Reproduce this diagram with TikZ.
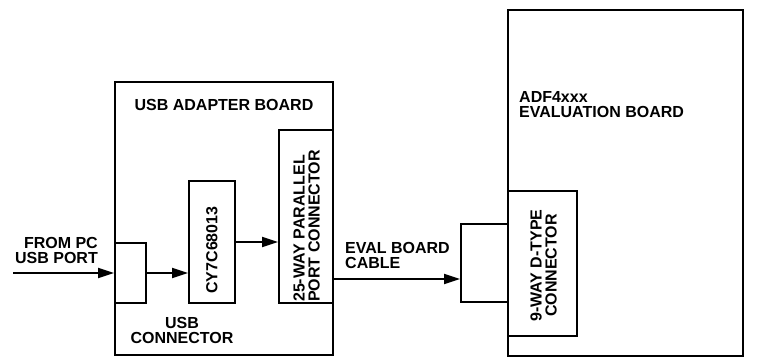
\documentclass[tikz,border=0pt]{standalone}
\usepackage{fontspec}
\setmainfont{Liberation Sans}
\usetikzlibrary{arrows.meta}
\tikzset{
  box/.style={draw,line width=2pt,inner sep=0pt},
  lbl/.style={font=\fontsize{16}{15}\selectfont\bfseries,inner sep=0pt},
  arr/.style={line width=2pt,-{Triangle[length=16pt,width=10pt]}}
}
\begin{document}
\begin{tikzpicture}[x=1pt,y=-1pt]
\useasboundingbox (0,0) rectangle (765,358);
% usb adapter board
\node[box,minimum width=218pt,minimum height=273pt] (usbboard) at (224,218.5) {};
\node[box,minimum width=31pt,minimum height=60pt] (usbconn) at (130.5,273) {};
\node[box,minimum width=46pt,minimum height=122pt] (cy) at (212,242) {};
\node[box,minimum width=54pt,minimum height=173pt] (par) at (306,216.5) {};
% evaluation board
\node[box,minimum width=235pt,minimum height=346pt] (adfboard) at (625.5,183) {};
\node[box,minimum width=69pt,minimum height=145pt] (dtype) at (542.5,263.5) {};
\node[box,minimum width=47pt,minimum height=78pt] (cable) at (484.5,263) {};
% arrows
\coordinate (pcin) at (13,273);
\coordinate (parout) at (333,279);
\draw[arr] (pcin) -- (usbconn.west);
\draw[arr] (usbconn.east) -- (usbconn.east -| cy.west);
\draw[arr] (cy.east) -- (cy.east -| par.west);
\draw[arr] (parout) -- (parout -| cable.west);
% labels
\node[lbl] (usbboardlbl) at (224,105) {USB ADAPTER BOARD};
\node[lbl,align=right,anchor=east] (pclbl) at (98,250) {FROM PC\\USB PORT};
\node[lbl,align=center] (usbconnlbl) at (182,330) {USB\\CONNECTOR};
\node[lbl,rotate=90] (cylbl) at (212,250) {CY7C68013};
\node[lbl,rotate=90,align=left,anchor=west] (parlbl) at (306.5,302) {25-WAY PARALLEL\\PORT CONNECTOR};
\node[lbl,align=left,anchor=west] (cablelbl) at (345,255) {EVAL BOARD\\CABLE};
\node[lbl,align=left,anchor=west] (adflbl) at (519,105) {ADF4xxx\\EVALUATION BOARD};
\node[lbl,rotate=90,align=center] (dtypelbl) at (543.5,265.5) {9-WAY D-TYPE\\CONNECTOR};
\end{tikzpicture}
\end{document}
